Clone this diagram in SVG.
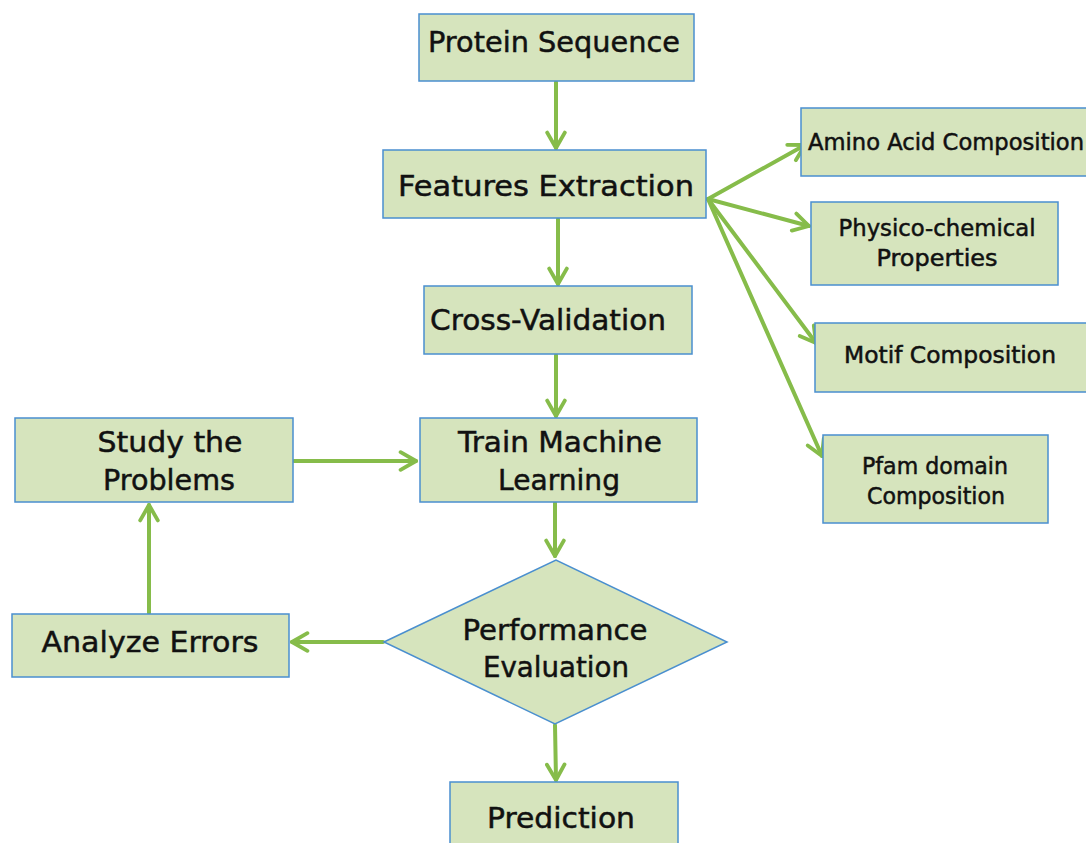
<svg xmlns="http://www.w3.org/2000/svg" width="1086" height="843" viewBox="0 0 1086 843">
<style>
.box{fill:#d6e4bd;stroke:#4a8fcf;stroke-width:1.5}
.t{font-family:"DejaVu Sans","Liberation Sans",sans-serif;fill:#111;stroke:#111;stroke-width:0.5;text-anchor:middle}
.big{font-size:29px}
.sm{font-size:22.5px}
.c{fill:none;stroke:#86bc4a;stroke-width:4;stroke-linecap:round}
</style>
<defs>
<marker id="ah" viewBox="0 0 20 20" refX="17" refY="10" markerWidth="5.5" markerHeight="5.5" orient="auto" markerUnits="strokeWidth">
<path d="M3,2 L17,10 L3,18" fill="none" stroke="#86bc4a" stroke-width="3.5" stroke-linecap="round" stroke-linejoin="round"/>
</marker>
</defs>
<rect width="1086" height="843" fill="#fff"/>
<g id="connectors">
<line class="c" x1="556" y1="82" x2="556" y2="148" marker-end="url(#ah)"/>
<line class="c" x1="558" y1="219" x2="558" y2="284" marker-end="url(#ah)"/>
<line class="c" x1="556" y1="355" x2="556" y2="416" marker-end="url(#ah)"/>
<line class="c" x1="555" y1="503" x2="555" y2="556" marker-end="url(#ah)"/>
<line class="c" x1="555" y1="725" x2="556" y2="780" marker-end="url(#ah)"/>
<line class="c" x1="383" y1="642" x2="292" y2="642" marker-end="url(#ah)"/>
<line class="c" x1="149" y1="613" x2="149" y2="505" marker-end="url(#ah)"/>
<line class="c" x1="294" y1="461" x2="416" y2="461" marker-end="url(#ah)"/>
<line class="c" x1="708" y1="199" x2="805" y2="145" marker-end="url(#ah)"/>
<line class="c" x1="708" y1="199" x2="809" y2="226" marker-end="url(#ah)"/>
<line class="c" x1="708" y1="199" x2="816" y2="343" marker-end="url(#ah)"/>
<line class="c" x1="708" y1="199" x2="822" y2="456" marker-end="url(#ah)"/>
</g>
<g id="protein-sequence">
<rect class="box" x="419" y="14" width="275" height="67"/>
<text class="t big" x="554" y="52" textLength="252" lengthAdjust="spacingAndGlyphs">Protein Sequence</text>
</g>
<g id="features-extraction">
<rect class="box" x="383" y="150" width="323" height="68"/>
<text class="t big" x="546" y="196" textLength="296" lengthAdjust="spacingAndGlyphs">Features Extraction</text>
</g>
<g id="cross-validation">
<rect class="box" x="424" y="286" width="268" height="68"/>
<text class="t big" x="548" y="330" textLength="236" lengthAdjust="spacingAndGlyphs">Cross-Validation</text>
</g>
<g id="train-machine-learning">
<rect class="box" x="420" y="418" width="277" height="84"/>
<text class="t big" x="560" y="452" textLength="204" lengthAdjust="spacingAndGlyphs">Train Machine</text>
<text class="t big" x="559" y="490" textLength="122" lengthAdjust="spacingAndGlyphs">Learning</text>
</g>
<g id="study-the-problems">
<rect class="box" x="15" y="418" width="278" height="84"/>
<text class="t big" x="170" y="452" textLength="145" lengthAdjust="spacingAndGlyphs">Study the</text>
<text class="t big" x="169" y="490" textLength="132" lengthAdjust="spacingAndGlyphs">Problems</text>
</g>
<g id="analyze-errors">
<rect class="box" x="12" y="614" width="277" height="63"/>
<text class="t big" x="150" y="652" textLength="217" lengthAdjust="spacingAndGlyphs">Analyze Errors</text>
</g>
<g id="performance-evaluation">
<polygon class="box" points="384,642 556,560 727,642 555,724"/>
<text class="t big" x="555" y="640" textLength="185" lengthAdjust="spacingAndGlyphs">Performance</text>
<text class="t big" x="556" y="677" textLength="146" lengthAdjust="spacingAndGlyphs">Evaluation</text>
</g>
<g id="prediction">
<rect class="box" x="450" y="782" width="228" height="70"/>
<text class="t big" x="561" y="828" textLength="148" lengthAdjust="spacingAndGlyphs">Prediction</text>
</g>
<g id="amino-acid-composition">
<rect class="box" x="801" y="108" width="295" height="68"/>
<text class="t sm" x="946" y="150" textLength="276" lengthAdjust="spacingAndGlyphs">Amino Acid Composition</text>
</g>
<g id="physico-chemical-properties">
<rect class="box" x="811" y="202" width="247" height="83"/>
<text class="t sm" x="937" y="236" textLength="197" lengthAdjust="spacingAndGlyphs">Physico-chemical</text>
<text class="t sm" x="937" y="266" textLength="121" lengthAdjust="spacingAndGlyphs">Properties</text>
</g>
<g id="motif-composition">
<rect class="box" x="815" y="323" width="281" height="69"/>
<text class="t sm" x="950" y="363" textLength="212" lengthAdjust="spacingAndGlyphs">Motif Composition</text>
</g>
<g id="pfam-domain-composition">
<rect class="box" x="823" y="435" width="225" height="88"/>
<text class="t sm" x="935" y="474" textLength="146" lengthAdjust="spacingAndGlyphs">Pfam domain</text>
<text class="t sm" x="936" y="504" textLength="138" lengthAdjust="spacingAndGlyphs">Composition</text>
</g>
</svg>
